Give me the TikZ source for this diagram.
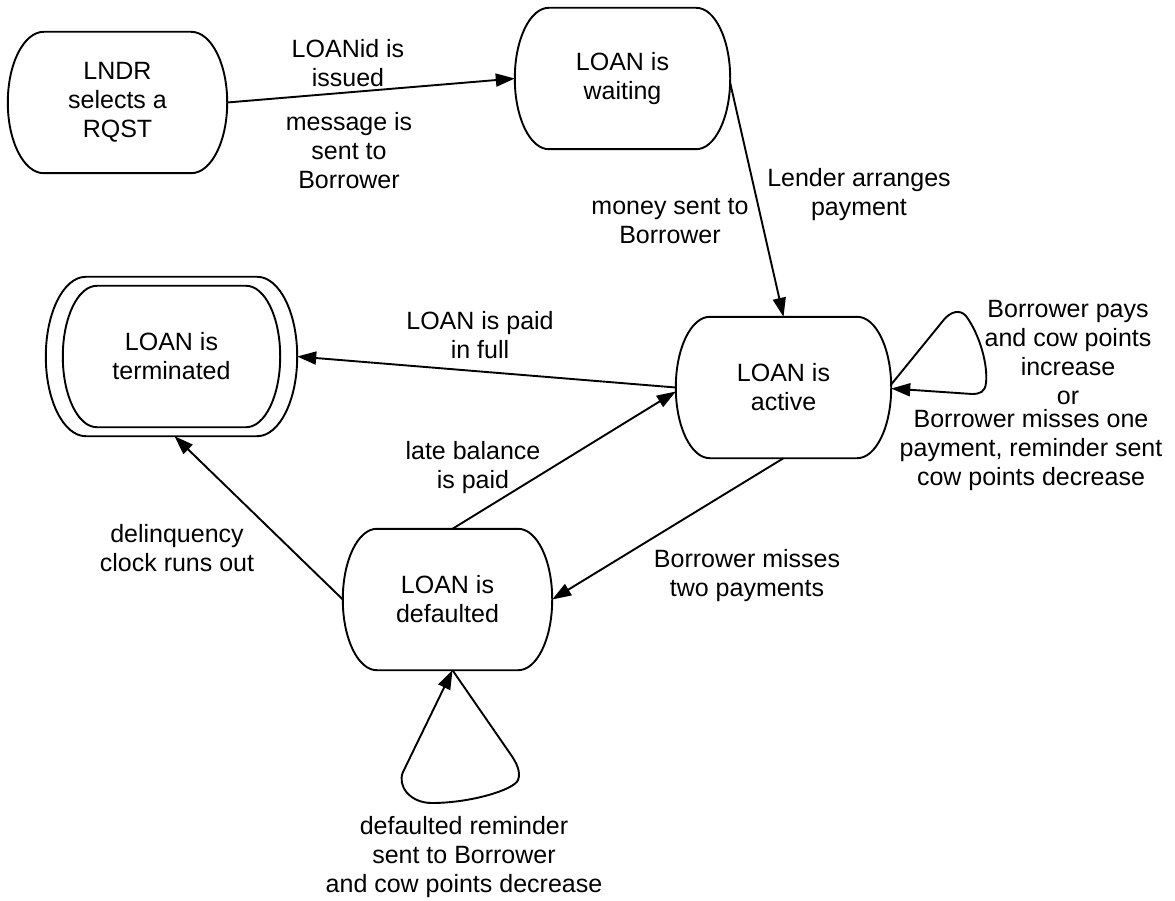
\documentclass[tikz,border=0pt]{standalone}
\usepackage{fontspec}
\setmainfont{Liberation Sans}
\usetikzlibrary{arrows.meta,calc}
\newcommand{\statefont}{\fontsize{25}{29}\selectfont}
% Outline of a state: flat top and bottom, elliptic sides.
% #1 node name, #2 horizontal radius, #3 vertical radius
\newcommand{\capsule}[3]{%
  \draw[outline] ($(#1.north west)+(#2,0)$) -- ($(#1.north east)+(-#2,0)$)
    .. controls ($(#1.north east)+(-0.448*#2,0)$) and ($(#1.north east)+(0,0.448*#3)$) .. ($(#1.north east)+(0,#3)$)
    -- ($(#1.south east)+(0,-#3)$)
    .. controls ($(#1.south east)+(0,-0.448*#3)$) and ($(#1.south east)+(-0.448*#2,0)$) .. ($(#1.south east)+(-#2,0)$)
    -- ($(#1.south west)+(#2,0)$)
    .. controls ($(#1.south west)+(0.448*#2,0)$) and ($(#1.south west)+(0,-0.448*#3)$) .. ($(#1.south west)+(0,-#3)$)
    -- ($(#1.north west)+(0,#3)$)
    .. controls ($(#1.north west)+(0,0.448*#3)$) and ($(#1.north west)+(0.448*#2,0)$) .. cycle;}
\begin{document}
\begin{tikzpicture}[x=1pt,y=-1pt,
  state/.style={rectangle, minimum width=215pt, minimum height=141pt,
    inner sep=0pt, align=center, font=\statefont},
  lbl/.style={align=center, inner sep=0pt, font=\statefont},
  outline/.style={line width=1.9pt},
  edge/.style={line width=1.9pt, line join=round, -{Triangle[length=19pt,width=13pt]}},
]
\useasboundingbox (0,0) rectangle (1175,901);

% states
\node[state, minimum width=219pt] (lndr) at (117.5,102.5) {LNDR\\selects a\\RQST};
\node[state] (wait) at (622.5,78.5) {LOAN is\\waiting};
\node[state] (act) at (783.5,387.5) {LOAN is\\active};
\node[state, minimum width=209pt] (def) at (447.5,599.5) {LOAN is\\defaulted};
\node[state, minimum width=251pt, minimum height=159pt] (term) at (171.5,356.5) {};
\node[state, minimum width=217pt] (termin) at (171.5,356.5) {LOAN is\\terminated};

\capsule{lndr}{36}{70.5}
\capsule{wait}{34}{70.5}
\capsule{act}{34}{70.5}
\capsule{def}{34}{70.5}
\capsule{term}{40}{79.5}
\capsule{termin}{34}{70.5}

% transitions
\draw[edge] (lndr.east) -- (wait.west);
\draw[edge] ([yshift=-4.5pt]wait.east) -- (act.north);
\draw[edge] (act.west) -- (term.east);
\draw[edge] ([xshift=5pt]def.north) -- ([yshift=-4pt]act.west);
\draw[edge] (act.south) -- (def.east);
\draw[edge] (def.west) -- ([xshift=3pt]term.south);

% self loops
\draw[edge] ([yshift=3pt]act.east) -- (942,322)
  .. controls (950,311) and (960,309) .. (966,316)
  .. controls (980,335) and (988,365) .. (986,383)
  .. controls (985,392) and (980,394) .. (972,394)
  -- ([yshift=-1pt]act.east);
\draw[edge] ([xshift=5pt]def.south) -- (509,752)
  .. controls (517,763) and (521,772) .. (518,780)
  .. controls (514,790) and (470,803) .. (432,803)
  .. controls (410,803) and (397,786) .. (403,772)
  -- ([xshift=5pt]def.south);

% transition labels
\node[lbl] (l1) at (348,63.5) {LOANid is\\issued};
\node[lbl] (l2) at (349,151) {message is\\sent to\\Borrower};
\node[lbl] (l3) at (859,195) {Lender arranges\\payment};
\node[lbl] (l4) at (670,221) {money sent to\\Borrower};
\node[lbl] (l5) at (480,335.5) {LOAN is paid\\in full};
\node[lbl] (l6) at (473,468) {late balance\\is paid};
\node[lbl] (l7) at (177,548.5) {delinquency\\clock runs out};
\node[lbl] (l8) at (747,576) {Borrower misses\\two payments};
\node[lbl] (l9) at (1068,352.5) {Borrower pays\\and cow points\\increase\\or};
\node[lbl] (l10) at (1031,450.5) {Borrower misses one\\payment, reminder sent\\cow points decrease};
\node[lbl] (l11) at (464,857) {defaulted reminder\\sent to Borrower\\and cow points decrease};
\end{tikzpicture}
\end{document}
